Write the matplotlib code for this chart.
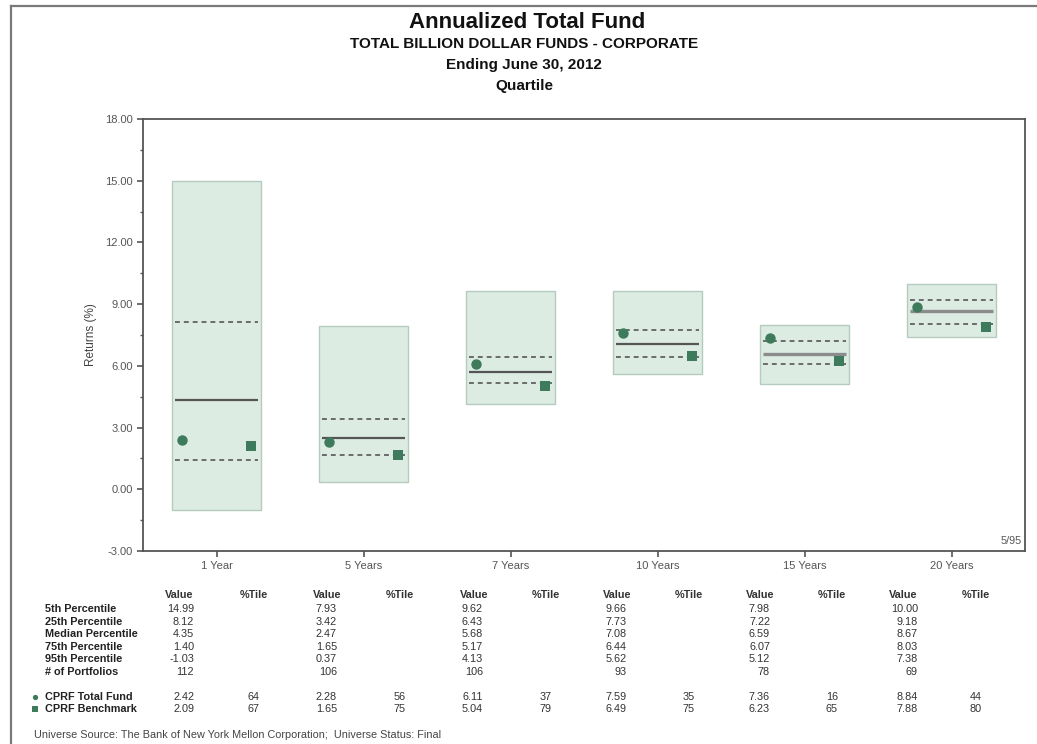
import matplotlib
matplotlib.use("Agg")
import matplotlib.pyplot as plt
from matplotlib.lines import Line2D
from matplotlib.patches import Rectangle
from matplotlib.ticker import MultipleLocator, FormatStrFormatter

plt.rcParams['font.family'] = ['Liberation Sans', 'DejaVu Sans']

# ---------------- data ----------------
categories = ['1 Year', '5 Years', '7 Years', '10 Years', '15 Years', '20 Years']
p5 = [14.99, 7.93, 9.62, 9.66, 7.98, 10.00]
p25 = [8.12, 3.42, 6.43, 7.73, 7.22, 9.18]
median = [4.35, 2.47, 5.68, 7.08, 6.59, 8.67]
p75 = [1.40, 1.65, 5.17, 6.44, 6.07, 8.03]
p95 = [-1.03, 0.37, 4.13, 5.62, 5.12, 7.38]
n_portfolios = [112, 106, 106, 93, 78, 69]
fund = [2.42, 2.28, 6.11, 7.59, 7.36, 8.84]
fund_rank = [64, 56, 37, 35, 16, 44]
bench = [2.09, 1.65, 5.04, 6.49, 6.23, 7.88]
bench_rank = [67, 75, 79, 75, 65, 80]
row_labels = ['5th Percentile', '25th Percentile', 'Median Percentile',
              '75th Percentile', '95th Percentile', '# of Portfolios']
fund_label = 'CPRF Total Fund'
bench_label = 'CPRF Benchmark'

# ---------------- style ----------------
W, H = 1037, 744
box_face = '#dcece3'
box_edge = '#b4cbbd'
mark_col = '#3e7a5c'
dash_col = '#4a4a4a'
median_cols = ['#555555', '#555555', '#555555', '#555555', '#8c8c8c', '#8c8c8c']
median_lw = [1.6, 1.6, 1.6, 1.6, 2.4, 2.4]
txt_col = '#333333'
tick_col = '#555555'

fig = plt.figure(figsize=(W / 100, H / 100), dpi=100)


def fx(x):
    return x / W


def fy(y):
    return 1 - y / H


# page border
fig.add_artist(Line2D([fx(10.5), 1.0], [fy(5.5), fy(5.5)], color='#7a7a7a', lw=1.6))
fig.add_artist(Line2D([fx(10.5), fx(10.5)], [fy(5.5), 0.0], color='#7a7a7a', lw=1.6))

# titles
fig.text(fx(527), fy(23), 'Annualized Total Fund', ha='center', va='center',
         fontsize=16, fontweight='bold', color='#111111')
fig.text(fx(524), fy(44), 'TOTAL BILLION DOLLAR FUNDS - CORPORATE', ha='center',
         va='center', fontsize=11, fontweight='bold', color='#111111')
fig.text(fx(524), fy(65), 'Ending June 30, 2012', ha='center', va='center',
         fontsize=11, fontweight='bold', color='#111111')
fig.text(fx(524), fy(86), 'Quartile', ha='center', va='center',
         fontsize=11, fontweight='bold', color='#111111')

# axes
ax_l, ax_r, ax_t, ax_b = 143, 1025, 119, 551
ax = fig.add_axes([fx(ax_l), fy(ax_b), (ax_r - ax_l) / W, (ax_b - ax_t) / H])
ax.set_xlim(-0.5, len(categories) - 0.5)
ax.set_ylim(-3, 18)

bw = 0.6
for i in range(len(categories)):
    ax.add_patch(Rectangle((i - bw / 2, p95[i]), bw, p5[i] - p95[i],
                           facecolor=box_face, edgecolor=box_edge, lw=1.0, zorder=1))
    xs = [i - bw / 2 + 0.015, i + bw / 2 - 0.015]
    ax.plot(xs, [p25[i]] * 2, color=dash_col, lw=1.1, ls=(0, (3.2, 2.6)), zorder=2)
    ax.plot(xs, [p75[i]] * 2, color=dash_col, lw=1.1, ls=(0, (3.2, 2.6)), zorder=2)
    ax.plot(xs, [median[i]] * 2, color=median_cols[i], lw=median_lw[i], zorder=2,
            solid_capstyle='butt')

xpos = list(range(len(categories)))
ax.plot([x - 0.235 for x in xpos], fund, 'o', color=mark_col, ms=7.5, mew=0, zorder=3)
ax.plot([x + 0.235 for x in xpos], bench, 's', color=mark_col, ms=7.5, mew=0, zorder=3)

ax.set_xticks(xpos)
ax.set_xticklabels(categories)
ax.yaxis.set_major_locator(MultipleLocator(3))
ax.yaxis.set_minor_locator(MultipleLocator(1.5))
ax.yaxis.set_major_formatter(FormatStrFormatter('%.2f'))
ax.tick_params(axis='both', which='major', direction='out', length=4, width=1.2,
               colors=tick_col, labelsize=8, labelcolor='#555555')
ax.tick_params(axis='y', which='minor', direction='out', length=2.5, width=1.0,
               colors=tick_col)
ax.tick_params(axis='x', pad=3)
for s in ax.spines.values():
    s.set_color('#555555')
    s.set_linewidth(1.3)
ax.set_ylabel('Returns (%)', fontsize=8.5, color='#444444', labelpad=6)
ax.text(0.996, 0.012, '5/95', transform=ax.transAxes, ha='right', va='bottom',
        fontsize=7.8, color='#555555')

# ---------------- table ----------------
val_right = [194, 337, 483, 627, 770, 918]
hdr_val_c = [179.5, 327, 474, 617, 760.5, 903]
pct_c = [254, 400, 546, 689, 832, 976]
row_y = [609, 622, 634, 647, 659, 672]
y_hdr = 595
y_fund, y_bench = 697, 709
fs = 7.8

for i in range(len(categories)):
    fig.text(fx(hdr_val_c[i]), fy(y_hdr), 'Value', ha='center', va='center',
             fontsize=fs, fontweight='bold', color=txt_col)
    fig.text(fx(pct_c[i]), fy(y_hdr), '%Tile', ha='center', va='center',
             fontsize=fs, fontweight='bold', color=txt_col)
    vals = [p5[i], p25[i], median[i], p75[i], p95[i]]
    for r, v in enumerate(vals):
        fig.text(fx(val_right[i]), fy(row_y[r]), f'{v:.2f}', ha='right', va='center',
                 fontsize=fs, color=txt_col)
    fig.text(fx(val_right[i]), fy(row_y[5]), f'{n_portfolios[i]}', ha='right',
             va='center', fontsize=fs, color=txt_col)
    fig.text(fx(val_right[i]), fy(y_fund), f'{fund[i]:.2f}', ha='right', va='center',
             fontsize=fs, color=txt_col)
    fig.text(fx(val_right[i]), fy(y_bench), f'{bench[i]:.2f}', ha='right', va='center',
             fontsize=fs, color=txt_col)
    fig.text(fx(pct_c[i]), fy(y_fund), f'{fund_rank[i]}', ha='center', va='center',
             fontsize=fs, color=txt_col)
    fig.text(fx(pct_c[i]), fy(y_bench), f'{bench_rank[i]}', ha='center', va='center',
             fontsize=fs, color=txt_col)

for r, lab in enumerate(row_labels):
    fig.text(fx(45), fy(row_y[r]), lab, ha='left', va='center', fontsize=fs,
             fontweight='bold', color='#222222')
fig.text(fx(45), fy(y_fund), fund_label, ha='left', va='center', fontsize=fs,
         fontweight='bold', color='#222222')
fig.text(fx(45), fy(y_bench), bench_label, ha='left', va='center', fontsize=fs,
         fontweight='bold', color='#222222')
fig.add_artist(Line2D([fx(35)], [fy(y_fund)], marker='o', ms=3.8, color=mark_col,
                      mew=0, ls='none'))
fig.add_artist(Line2D([fx(35)], [fy(y_bench)], marker='s', ms=4.2, color=mark_col,
                      mew=0, ls='none'))

fig.text(fx(34), fy(735), 'Universe Source: The Bank of New York Mellon Corporation;  '
         'Universe Status: Final', ha='left', va='center', fontsize=fs, color='#444444')

fig.savefig('out.png', dpi=100)
